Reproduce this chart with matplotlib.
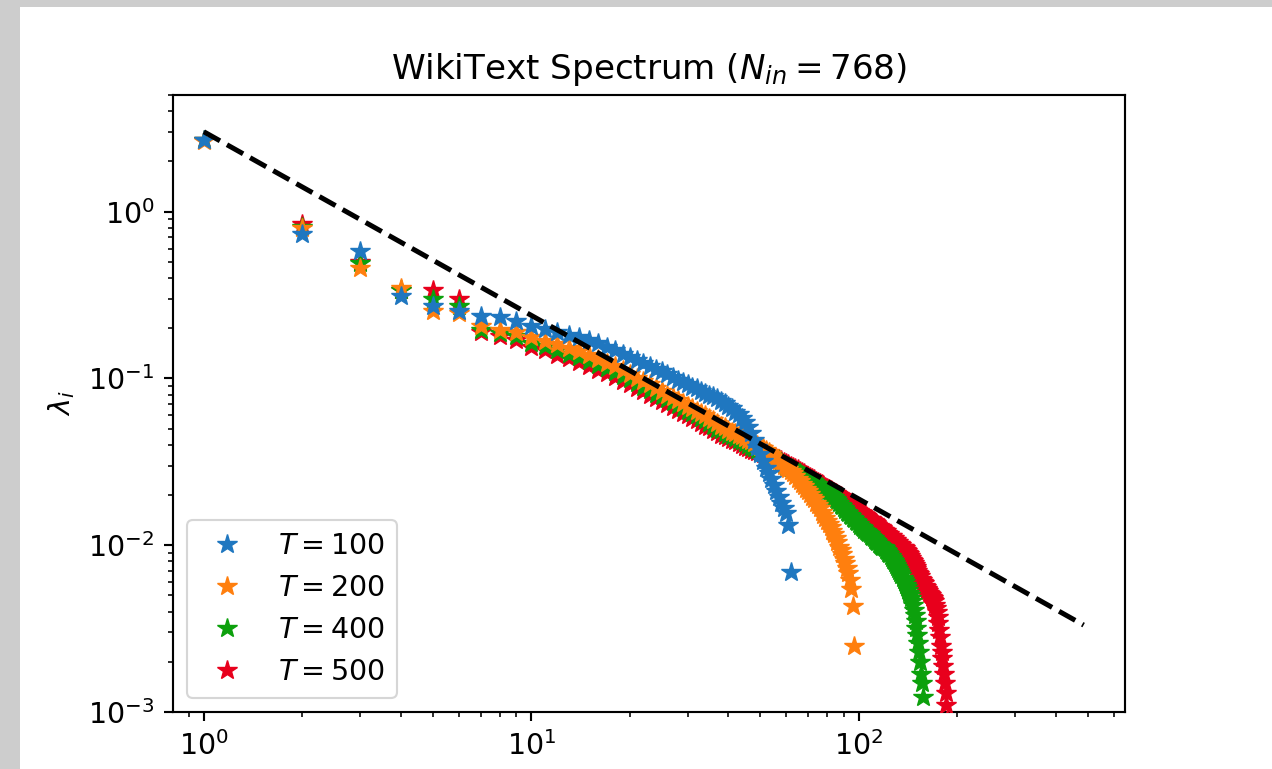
import numpy as np
import matplotlib
matplotlib.use("Agg")
import matplotlib.pyplot as plt
from matplotlib.patches import Rectangle

# eigenvalue spectra (index i = 1, 2, ...)
lam_t100 = [2.70, 0.73, 0.58, 0.31, 0.27, 0.255, 0.238, 0.232, 0.22, 0.205,
            0.198, 0.19, 0.183, 0.176, 0.169, 0.162, 0.155, 0.148, 0.141, 0.135,
            0.129, 0.124, 0.119, 0.114, 0.110, 0.106, 0.102, 0.098, 0.095, 0.092,
            0.089, 0.087, 0.084, 0.082, 0.080, 0.078, 0.076, 0.073, 0.071, 0.068,
            0.066, 0.063, 0.061, 0.058, 0.055, 0.051, 0.047, 0.043, 0.039, 0.035,
            0.032, 0.029, 0.027, 0.025, 0.023, 0.021, 0.0195, 0.018, 0.0168, 0.0155,
            0.0133, 0.0069]

lam_t200 = [2.65, 0.80, 0.462, 0.35, 0.252, 0.245, 0.205, 0.196, 0.19, 0.176,
            0.168, 0.160, 0.152, 0.145, 0.138, 0.131, 0.124, 0.118, 0.112, 0.106,
            0.101, 0.096, 0.092, 0.088, 0.084, 0.080, 0.077, 0.074, 0.071, 0.068,
            0.066, 0.064, 0.062, 0.060, 0.058, 0.056, 0.054, 0.052, 0.051, 0.049,
            0.048, 0.047, 0.046, 0.045, 0.044, 0.043, 0.042, 0.041, 0.040, 0.039,
            0.038, 0.037, 0.036, 0.035, 0.034, 0.033, 0.032, 0.031, 0.030, 0.029,
            0.0285, 0.0278, 0.027, 0.026, 0.025, 0.0242, 0.0234, 0.0226, 0.0218, 0.021,
            0.0203, 0.0195, 0.0188, 0.018, 0.0173, 0.0166, 0.0159, 0.0152, 0.0146, 0.014,
            0.0134, 0.0128, 0.0122, 0.0116, 0.011, 0.0104, 0.0098, 0.0093, 0.0088, 0.0083,
            0.0078, 0.0073, 0.0068, 0.0062, 0.0055, 0.0043, 0.0025]

lam_t400 = [2.68, 0.81, 0.495, 0.34, 0.30, 0.273, 0.196, 0.188, 0.18, 0.164,
            0.156, 0.148, 0.141, 0.134, 0.127, 0.121, 0.115, 0.109, 0.104, 0.099,
            0.094, 0.089, 0.085, 0.081, 0.078, 0.075, 0.072, 0.069, 0.066, 0.064,
            0.062, 0.060, 0.058, 0.056, 0.054, 0.052, 0.050, 0.049, 0.047, 0.046,
            0.045, 0.044, 0.043, 0.042, 0.041, 0.040, 0.039, 0.038, 0.037, 0.036,
            0.0355, 0.035, 0.0345, 0.034, 0.0335, 0.033, 0.0322, 0.0315, 0.0308, 0.030,
            0.0295, 0.029, 0.0285, 0.028, 0.0275, 0.027, 0.0265, 0.026, 0.0255, 0.025,
            0.0246, 0.0242, 0.0238, 0.0234, 0.023, 0.0226, 0.0222, 0.0218, 0.0214, 0.021,
            0.0206, 0.0202, 0.0198, 0.0194, 0.019, 0.0185, 0.018, 0.0175, 0.0171, 0.0167,
            0.0163, 0.0159, 0.0155, 0.0152, 0.0149, 0.0146, 0.0143, 0.0140, 0.0137, 0.0134,
            0.0131, 0.0128, 0.0126, 0.0124, 0.0122, 0.0120, 0.0118, 0.0116, 0.0114, 0.0112,
            0.0110, 0.0108, 0.0106, 0.0104, 0.0102, 0.0100, 0.0099, 0.0098, 0.0097, 0.0096,
            0.0094, 0.0092, 0.0090, 0.0088, 0.0086, 0.0084, 0.0082, 0.0080, 0.0078, 0.0076,
            0.0074, 0.0072, 0.0070, 0.0068, 0.0066, 0.0064, 0.0062, 0.0060, 0.0058, 0.0056,
            0.0054, 0.0052, 0.0050, 0.0048, 0.0046, 0.0044, 0.0041, 0.0038, 0.0035, 0.0032,
            0.0029, 0.0026, 0.0023, 0.0020, 0.0017, 0.0015, 0.00123]

lam_t500 = [2.68, 0.847, 0.50, 0.34, 0.337, 0.30, 0.19, 0.18, 0.17, 0.155,
            0.147, 0.139, 0.132, 0.125, 0.119, 0.113, 0.107, 0.102, 0.097, 0.092,
            0.088, 0.084, 0.080, 0.076, 0.073, 0.070, 0.067, 0.065, 0.062, 0.060,
            0.058, 0.056, 0.054, 0.052, 0.051, 0.049, 0.048, 0.046, 0.045, 0.044,
            0.043, 0.042, 0.041, 0.040, 0.039, 0.038, 0.037, 0.0365, 0.036, 0.0355,
            0.0352, 0.0348, 0.0344, 0.034, 0.0336, 0.0332, 0.0327, 0.0322, 0.0316, 0.031,
            0.0305, 0.030, 0.0295, 0.029, 0.0285, 0.028, 0.0275, 0.027, 0.0265, 0.026,
            0.0256, 0.0252, 0.0248, 0.0244, 0.024, 0.0236, 0.0232, 0.0228, 0.0224, 0.022,
            0.0217, 0.0214, 0.0211, 0.0208, 0.0205, 0.0202, 0.0199, 0.0196, 0.0193, 0.019,
            0.0187, 0.0184, 0.0181, 0.0178, 0.0175, 0.0172, 0.0169, 0.0166, 0.0163, 0.016,
            0.0158, 0.0156, 0.0154, 0.0152, 0.0150, 0.0148, 0.0146, 0.0144, 0.0143, 0.0141,
            0.0139, 0.0137, 0.0135, 0.0133, 0.0131, 0.0129, 0.0128, 0.0126, 0.0124, 0.0122,
            0.0121, 0.0119, 0.0117, 0.0116, 0.0114, 0.0113, 0.0111, 0.0110, 0.0108, 0.0107,
            0.0105, 0.0104, 0.0102, 0.0101, 0.0100, 0.0098, 0.0097, 0.0096, 0.0094, 0.0092,
            0.0090, 0.0088, 0.0086, 0.0084, 0.0082, 0.0080, 0.0078, 0.0076, 0.0074, 0.0072,
            0.0070, 0.0068, 0.0067, 0.0065, 0.0063, 0.0062, 0.0060, 0.0059, 0.0057, 0.0056,
            0.0055, 0.0054, 0.0053, 0.0052, 0.0051, 0.0050, 0.0049, 0.0048, 0.0047, 0.0046,
            0.0044, 0.0042, 0.0040, 0.0037, 0.0034, 0.0031, 0.0028, 0.0025, 0.0023, 0.0021,
            0.0019, 0.0017, 0.0015, 0.0013, 0.0011, 0.0009]

series = [("$T=100$", lam_t100, "#1f77c0"),
          ("$T=200$", lam_t200, "#ff7f0e"),
          ("$T=400$", lam_t400, "#0ca00c"),
          ("$T=500$", lam_t500, "#e8001c")]

# power-law reference line endpoints
ref_x = [1, 486]
ref_y = [3.01, 0.00332]

S = 1.92   # the picture is a scaled-up default figure
SF = 2.05  # text scale

fig = plt.figure(figsize=(12.72, 7.69), dpi=100, facecolor="#cdcdcd")
fig.add_artist(Rectangle((20 / 1272, 0), 1, (769 - 7) / 769,
                         transform=fig.transFigure, facecolor="white",
                         edgecolor="none", zorder=-1))

ax = fig.add_axes([173 / 1272, 57 / 769, 952 / 1272, 617 / 769])

# earlier series drawn on top
handles = []
for k, (label, lam, color) in enumerate(series):
    idx = np.arange(1, len(lam) + 1)
    h, = ax.plot(idx, lam, "*", color=color, markersize=14.5, label=label,
                 zorder=10 - k)
    handles.append(h)

ax.plot(ref_x, ref_y, "k--", linewidth=3.6, zorder=20)

ax.set_xscale("log")
ax.set_yscale("log")
ax.set_xlim(0.805, 650)
ax.set_ylim(1e-3, 5.0)

ax.set_title("WikiText Spectrum ($N_{in}=768$)", fontsize=12 * SF, pad=6 * S)
ax.set_ylabel(r"$\lambda_i$", fontsize=10 * SF, labelpad=4 * S)

for sp in ax.spines.values():
    sp.set_linewidth(0.8 * S)
ax.tick_params(which="major", length=3.5 * S, width=0.8 * S, labelsize=10 * SF, pad=3.5 * S)
ax.tick_params(which="minor", length=2 * S, width=0.6 * S)

leg = ax.legend(handles=handles, loc="lower left", fontsize=10 * SF, borderpad=0.4,
                labelspacing=0.5, handletextpad=0.8, borderaxespad=0.5)
leg.get_frame().set_linewidth(0.8 * S)
leg.set_zorder(30)

fig.savefig("out.png", dpi=100, facecolor=fig.get_facecolor())
